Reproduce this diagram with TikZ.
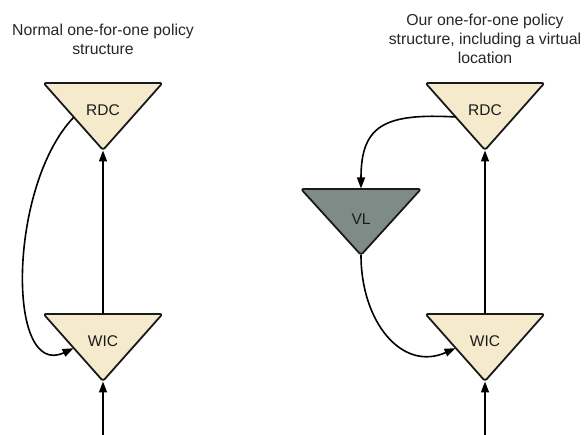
\documentclass[tikz,border=0pt]{standalone}
\usepackage{fontspec}
\setmainfont{Liberation Sans}
\usetikzlibrary{arrows.meta}
\definecolor{stockfill}{HTML}{F5EACB}
\definecolor{virtfill}{HTML}{7F8B86}
\definecolor{inkline}{HTML}{1A1A1A}
\tikzset{
  tri/.style={draw=inkline, line width=1.8pt, rounded corners=2.5pt, line join=round},
  lbl/.style={font=\fontsize{15.5}{18}\selectfont, text=inkline, inner sep=0pt},
  ttl/.style={font=\fontsize{15.8}{19}\selectfont, align=center, text=black!85, inner sep=0pt},
  flow/.style={draw=black, line width=1.6pt, -{Triangle[length=11pt,width=8pt]}, shorten >=0.5pt},
}
% Downward-pointing triangle: name, centre x, top y, fill colour, label
\newcommand\DrawTri[5]{%
  \path[tri, fill=#4] (#2-59.5,#3) -- (#2+59.5,#3) -- (#2,#3+67) -- cycle;
  \coordinate (#1-top) at (#2,#3);
  \coordinate (#1-apex) at (#2,#3+67);
  \coordinate (#1-ledge) at (#2-29,#3+34);
  \coordinate (#1-redge) at (#2+29,#3+34);
  \node[lbl] (#1) at (#2,#3+27) {#5};
}
\begin{document}
\begin{tikzpicture}[x=1pt, y=-1pt]
\useasboundingbox (0,0) rectangle (584,435);

% titles
\node[ttl] (ttlL) at (103,39) {Normal one-for-one policy\\structure};
\node[ttl] (ttlR) at (485,39) {Our one-for-one policy\\structure, including a virtual\\location};

% left structure
\DrawTri{rdcL}{103}{83}{stockfill}{RDC}
\DrawTri{wicL}{103}{314}{stockfill}{WIC}
\coordinate (inL) at (103,436);
\draw[flow] (inL) -- (wicL-apex);
\draw[flow] (wicL-top) -- (rdcL-apex);
\draw[flow] (rdcL-ledge) .. controls (8,185) and (6,380) .. (wicL-ledge);

% right structure
\DrawTri{rdcR}{485}{83}{stockfill}{RDC}
\DrawTri{wicR}{485}{314}{stockfill}{WIC}
\path[tri, fill=virtfill] (301,189) -- (421,189) -- (361,255) -- cycle;
\coordinate (vl-top) at (361,189);
\coordinate (vl-apex) at (361,255);
\node[lbl] (vl) at (361,219) {VL};
\coordinate (inR) at (485,436);
\draw[flow] (inR) -- (wicR-apex);
\draw[flow] (wicR-top) -- (rdcR-apex);
\draw[flow] (rdcR-ledge) .. controls (385,113) and (361,125) .. (vl-top);
\draw[flow] (vl-apex) .. controls (361,322) and (402,372) .. (wicR-ledge);
\end{tikzpicture}
\end{document}
